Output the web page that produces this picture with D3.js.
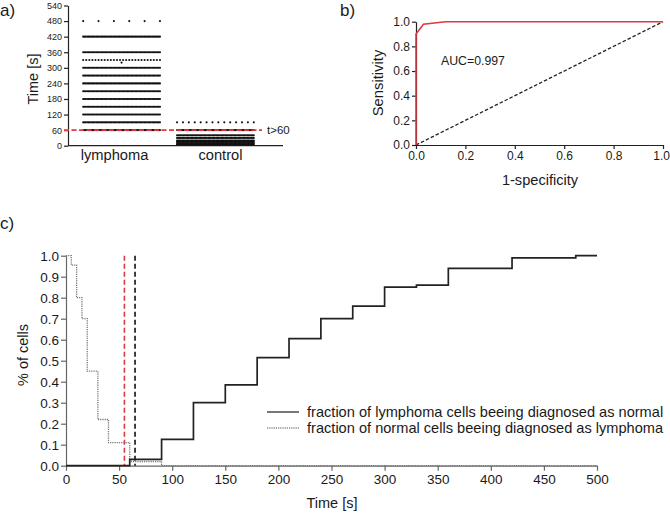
<!DOCTYPE html>
<html>
<head>
<meta charset="utf-8">
<script src="https://cdn.jsdelivr.net/npm/d3@7/dist/d3.min.js"></script>
<style>
  html, body { margin: 0; padding: 0; background: #fff; }
  svg { display: block; font-family: "Liberation Sans", Arial, sans-serif; }
</style>
</head>
<body>
<svg id="chart" width="670" height="514"></svg>
<script>
// ---------- Panel a data ----------
const categories = ["lymphoma", "control"];
const lymphomaTimes  = [60, 90, 120, 150, 180, 210, 240, 270, 300, 320, 330, 360, 420, 480];
const lymphomaCounts = [60, 60, 60, 60, 60, 60, 60, 60, 60, 1, 26, 60, 60, 6];
const controlTimes   = [5, 10, 15, 20, 30, 40, 60, 90];
const controlCounts  = [60, 60, 60, 60, 60, 60, 60, 14];
const timeTicksA = [0, 60, 120, 180, 240, 300, 360, 420, 480, 540];
const thresholdA = 60;

// ---------- Panel b data ----------
const rocFpr = [0, 0, 0.03, 0.12, 1.0];
const rocTpr = [0, 0.90, 0.98, 1.0, 1.0];
const rocTicks = [0, 0.2, 0.4, 0.6, 0.8, 1.0];
const aucLabel = "AUC=0.997";

// ---------- Panel c data ----------
const lymphT = [0, 60, 90, 120, 150, 180, 210, 240, 270, 300, 330, 360, 420, 480, 500];
const lymphV = [0, 0.03, 0.125, 0.30, 0.385, 0.515, 0.605, 0.70, 0.76, 0.85, 0.86, 0.94, 0.99, 1.0, 1.0];
const normalT = [0, 5, 10, 15, 20, 30, 40, 60, 90, 500];
const normalV = [1.0, 0.955, 0.80, 0.70, 0.45, 0.22, 0.11, 0.02, 0, 0];
const cutoffRed = 55;
const cutoffBlack = 65;
const xTicksC = [0, 50, 100, 150, 200, 250, 300, 350, 400, 450, 500];
const yTicksC = [0, 0.1, 0.2, 0.3, 0.4, 0.5, 0.6, 0.7, 0.8, 0.9, 1.0];
const legendLabels = ["fraction of lymphoma cells beeing diagnosed as normal",
                      "fraction of normal cells beeing diagnosed as lymphoma"];

const svg = d3.select("#chart");
const RED = "#e0393e";
const TXT = "#1a1a1a";

// ================= Panel a =================
{
  const g = svg.append("g");
  const y = d3.scaleLinear().domain([0, 540]).range([145.7, 5.5]);
  const x = d3.scaleBand().domain(categories).range([77, 260]).paddingInner(0.15).paddingOuter(0.05);
  const axisX0 = 68, axisX1 = 283;

  const yAxis = d3.axisLeft(y).tickValues(timeTicksA).tickSize(4).tickPadding(2).tickSizeOuter(0);
  const ga = g.append("g").attr("transform", `translate(${axisX0},0)`).call(yAxis);
  ga.select(".domain").attr("stroke", "#222").attr("stroke-width", 1.2);
  ga.selectAll(".tick line").attr("stroke", "#222").attr("stroke-width", 1.2);
  ga.selectAll(".tick text").attr("font-size", 9).attr("fill", TXT).attr("font-family", "Liberation Sans, Arial");

  g.append("line").attr("x1", axisX0).attr("x2", axisX1).attr("y1", y(0)).attr("y2", y(0))
    .attr("stroke", "#222").attr("stroke-width", 1.2);

  // points
  const rows = [];
  lymphomaTimes.forEach((t, i) => rows.push({cat: "lymphoma", t, n: lymphomaCounts[i]}));
  controlTimes.forEach((t, i) => rows.push({cat: "control", t, n: controlCounts[i]}));
  const pts = [];
  rows.forEach(r => {
    const x0 = x(r.cat) + 1.5, w = x.bandwidth() - 3;
    for (let i = 0; i < r.n; i++) {
      const px = r.n === 1 ? x0 + w / 2 : x0 + w * i / (r.n - 1);
      pts.push({px, t: r.t});
    }
  });
  g.append("g").selectAll("circle").data(pts).join("circle")
    .attr("cx", d => d.px).attr("cy", d => y(d.t)).attr("r", 1.05).attr("fill", "#111");

  // threshold line
  g.append("line").attr("x1", 64).attr("x2", 262).attr("y1", y(thresholdA)).attr("y2", y(thresholdA))
    .attr("stroke", RED).attr("stroke-width", 1.6).attr("stroke-dasharray", "5,2.5");
  g.append("text").attr("x", 267).attr("y", y(thresholdA) + 4).attr("font-size", 11.5).attr("fill", TXT).text("t>" + thresholdA);

  // category labels
  g.selectAll("text.cat").data(categories).join("text").attr("class", "cat")
    .attr("x", d => x(d) + x.bandwidth() / 2 + (d === "lymphoma" ? -7 : 5))
    .attr("y", 160).attr("text-anchor", "middle").attr("font-size", 14.7).attr("fill", TXT).text(d => d);

  g.append("text").attr("transform", "translate(38,79) rotate(-90)").attr("text-anchor", "middle")
    .attr("font-size", 14.5).attr("fill", TXT).text("Time [s]");
  g.append("text").attr("x", 0).attr("y", 16).attr("font-size", 17).attr("fill", TXT).text("a)");
}

// ================= Panel b =================
{
  const g = svg.append("g");
  const x = d3.scaleLinear().domain([0, 1]).range([416, 663]);
  const y = d3.scaleLinear().domain([0, 1]).range([145, 21.7]);
  const fmt = d3.format(".1f");

  const gy = g.append("g").attr("transform", `translate(${x(0)},0)`)
    .call(d3.axisLeft(y).tickValues(rocTicks).tickFormat(fmt).tickSize(4).tickPadding(2).tickSizeOuter(0));
  const gx = g.append("g").attr("transform", `translate(0,${y(0)})`)
    .call(d3.axisBottom(x).tickValues(rocTicks).tickFormat(fmt).tickSize(4).tickPadding(2).tickSizeOuter(0));
  [gx, gy].forEach(a => {
    a.select(".domain").attr("stroke", "#222").attr("stroke-width", 1.2);
    a.selectAll(".tick line").attr("stroke", "#222").attr("stroke-width", 1.2);
    a.selectAll(".tick text").attr("font-size", 12).attr("fill", TXT).attr("font-family", "Liberation Sans, Arial");
  });
  // keep the last x label inside the picture
  gx.selectAll(".tick text").filter(d => d === 1).attr("text-anchor", "end").attr("dx", 6.5);

  g.append("line").attr("x1", x(0)).attr("y1", y(0)).attr("x2", x(1)).attr("y2", y(1))
    .attr("stroke", "#222").attr("stroke-width", 1.3).attr("stroke-dasharray", "3.5,2");

  const roc = rocFpr.map((f, i) => [f, rocTpr[i]]);
  g.append("path").datum(roc)
    .attr("d", d3.line().x(d => x(d[0])).y(d => y(d[1])))
    .attr("fill", "none").attr("stroke", RED).attr("stroke-width", 1.6);

  g.append("text").attr("x", 441).attr("y", 65).attr("font-size", 12.3).attr("fill", TXT).text(aucLabel);
  g.append("text").attr("transform", "translate(383,83) rotate(-90)").attr("text-anchor", "middle")
    .attr("font-size", 14.8).attr("fill", TXT).text("Sensitivity");
  g.append("text").attr("x", 540).attr("y", 185).attr("text-anchor", "middle")
    .attr("font-size", 14.6).attr("fill", TXT).text("1-specificity");
  g.append("text").attr("x", 340).attr("y", 16).attr("font-size", 17).attr("fill", TXT).text("b)");
}

// ================= Panel c =================
{
  const g = svg.append("g");
  const x = d3.scaleLinear().domain([0, 500]).range([66, 597]);
  const y = d3.scaleLinear().domain([0, 1]).range([465.7, 255.7]);
  const AX = "#666";

  const gy = g.append("g").attr("transform", `translate(${x(0)},0)`)
    .call(d3.axisLeft(y).tickValues(yTicksC).tickFormat(d3.format(".1f")).tickSize(5).tickPadding(2).tickSizeOuter(0));
  const gx = g.append("g").attr("transform", `translate(0,${y(0)})`)
    .call(d3.axisBottom(x).tickValues(xTicksC).tickFormat(d3.format("d")).tickSize(5).tickPadding(4).tickSizeOuter(0));
  [gx, gy].forEach(a => {
    a.select(".domain").attr("stroke", AX).attr("stroke-width", 1.2);
    a.selectAll(".tick line").attr("stroke", AX).attr("stroke-width", 1.2);
    a.selectAll(".tick text").attr("font-size", 13.5).attr("fill", TXT).attr("font-family", "Liberation Sans, Arial");
  });

  // cutoff lines
  [[cutoffRed, RED], [cutoffBlack, "#111"]].forEach(([t, c]) => {
    g.append("line").attr("x1", x(t)).attr("x2", x(t)).attr("y1", y(1)).attr("y2", y(0))
      .attr("stroke", c).attr("stroke-width", 1.6).attr("stroke-dasharray", "5,3");
  });

  const step = d3.line().curve(d3.curveStepAfter).x(d => x(d[0])).y(d => y(d[1]));
  g.append("path").datum(normalT.map((t, i) => [t, normalV[i]]))
    .attr("d", step).attr("fill", "none").attr("stroke", "#777").attr("stroke-width", 1.3).attr("stroke-dasharray", "1.2,1");
  g.append("path").datum(lymphT.map((t, i) => [t, lymphV[i]]))
    .attr("d", step).attr("fill", "none").attr("stroke", "#222").attr("stroke-width", 1.7);

  // legend
  const lg = g.append("g");
  const styles = [{stroke: "#555", dash: null, w: 1.6}, {stroke: "#888", dash: "1.2,1", w: 1.3}];
  legendLabels.forEach((lab, i) => {
    const yy = 412 + i * 16;
    lg.append("line").attr("x1", 267).attr("x2", 299).attr("y1", yy).attr("y2", yy)
      .attr("stroke", styles[i].stroke).attr("stroke-width", styles[i].w).attr("stroke-dasharray", styles[i].dash);
    lg.append("text").attr("x", 307).attr("y", yy + 5).attr("font-size", 14.6).attr("fill", TXT).text(lab);
  });

  g.append("text").attr("transform", "translate(28,355) rotate(-90)").attr("text-anchor", "middle")
    .attr("font-size", 14.5).attr("fill", TXT).text("% of cells");
  g.append("text").attr("x", 332).attr("y", 508).attr("text-anchor", "middle")
    .attr("font-size", 14.5).attr("fill", TXT).text("Time [s]");
  g.append("text").attr("x", 0).attr("y", 229).attr("font-size", 17).attr("fill", TXT).text("c)");
}
</script>
</body>
</html>
